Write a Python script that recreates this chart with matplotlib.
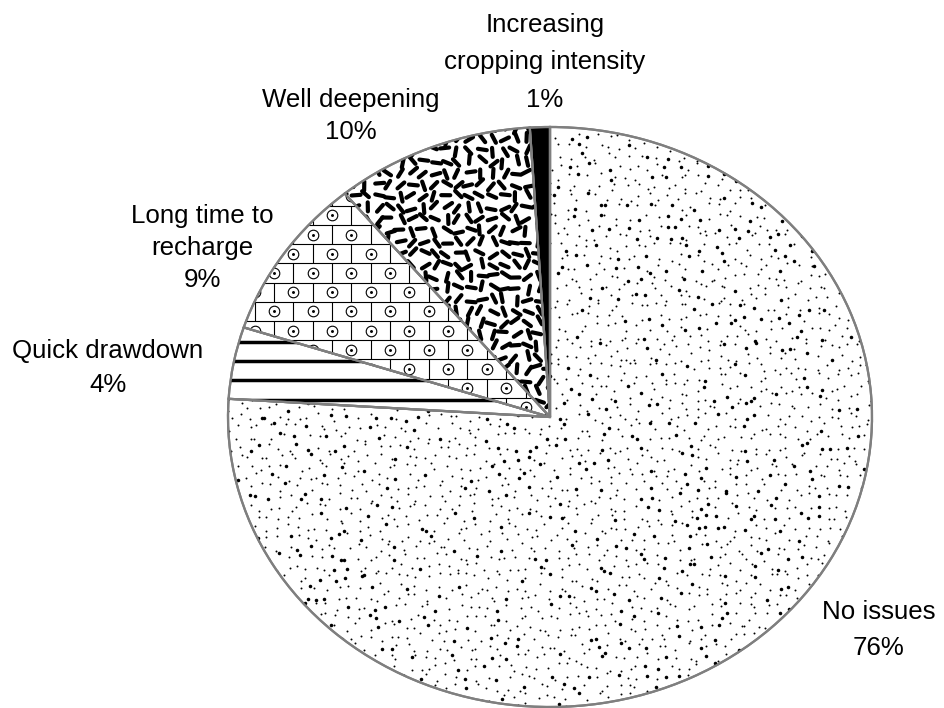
import numpy as np
import matplotlib
matplotlib.use("Agg")
import matplotlib.pyplot as plt
from matplotlib.collections import LineCollection
from matplotlib.patches import Wedge

# ---- data ----
categories = ["No issues", "Quick drawdown", "Long time to\nrecharge",
              "Well deepening", "Increasing\ncropping intensity"]
shares = [76, 4, 9, 10, 1]

# ---- layout (pixels, origin top-left) ----
W, H = 944, 708
CX, CY = 550, 417          # pie centre
RX, RY = 322, 290          # horizontal / vertical radius
# label anchor: x centre, first baseline, line pitch
label_pos = [(879, 619.3, 35.7), (107.5, 358.3, 34.0), (202, 223.0, 32.0),
             (351, 106.8, 32.5), (545, 31.7, 37.8)]

EDGE = "#7f7f7f"
FONT = ["Liberation Sans", "DejaVu Sans"]

fig = plt.figure(figsize=(W / 100, H / 100), dpi=100)
ax = fig.add_axes([0, 0, 1, 1])

wedges, _ = ax.pie(shares, startangle=90, counterclock=False, radius=1.0,
                   wedgeprops=dict(facecolor="white", edgecolor=EDGE, linewidth=1.6))
ax.set_aspect("auto")
ax.set_xlim(-CX / RX, (W - CX) / RX)
ax.set_ylim(-(H - CY) / RY, CY / RY)
ax.axis("off")


def to_data(px, py):
    px = np.asarray(px, float)
    py = np.asarray(py, float)
    return (px - CX) / RX, (CY - py) / RY


rng = np.random.default_rng(7)

# --- stipple texture (No issues): jittered grid keeps the dots evenly spread ---
step_s = 10.0
sx, sy = np.meshgrid(np.arange(CX - RX, CX + RX + step_s, step_s),
                     np.arange(CY - RY, CY + RY + step_s, step_s))
sx = sx.ravel() + rng.uniform(-4.5, 4.5, sx.size)
sy = sy.ravel() + rng.uniform(-4.5, 4.5, sy.size)
big = rng.random(sx.size) < 0.22
for mask, size in ((~big, 2.0), (big, 6.5)):
    dx, dy = to_data(sx[mask], sy[mask])
    sc = ax.scatter(dx, dy, s=size, c="black", linewidths=0, zorder=3)
    sc.set_clip_path(wedges[0])

# --- thick horizontal lines (Quick drawdown) ---
segs = []
for yp in np.arange(342.0 - 19.2 * 3, CY + 20, 19.2):
    x0, y0 = to_data(CX - RX - 10, yp)
    x1, y1 = to_data(CX + 10, yp)
    segs.append([(x0, y0), (x1, y1)])
lc = LineCollection(segs, colors="black", linewidths=2.5, zorder=3)
ax.add_collection(lc, autolim=False)
lc.set_clip_path(wedges[1])

# --- brick with circled dots (Long time to recharge) ---
row_h, brick_w = 19.2, 38.7
y_ref, x_ref = 263.3, 293.3
hsegs, vsegs, cents = [], [], []
for k in range(-12, 12):
    ytop = y_ref + k * row_h
    ybot = ytop + row_h
    x0, y0 = to_data(CX - RX - 10, ytop)
    x1, _ = to_data(CX + 10, ytop)
    hsegs.append([(x0, y0), (x1, y0)])
    off = 0.0 if k % 2 == 0 else -brick_w / 2
    for j in range(-10, 10):
        xv = x_ref + off + j * brick_w
        a = to_data(xv, ytop)
        b = to_data(xv, ybot)
        vsegs.append([a, b])
        cents.append((xv + brick_w / 2, ytop + row_h / 2))
bl = LineCollection(hsegs + vsegs, colors="black", linewidths=0.8, zorder=3)
ax.add_collection(bl, autolim=False)
bl.set_clip_path(wedges[2])
cents = np.array(cents)
cx_d, cy_d = to_data(cents[:, 0], cents[:, 1])
ring = ax.scatter(cx_d, cy_d, s=58, facecolors="white", edgecolors="black",
                  linewidths=0.8, zorder=4)
ring.set_clip_path(wedges[2])
dot = ax.scatter(cx_d, cy_d, s=4.5, c="black", linewidths=0, zorder=5)
dot.set_clip_path(wedges[2])

# --- confetti dashes (Well deepening) ---
step = 11.5
gx, gy = np.meshgrid(np.arange(CX - RX, CX + 10, step),
                     np.arange(CY - RY, CY + 10, step))
gx = gx.ravel() + rng.uniform(-2.5, 2.5, gx.size)
gy = gy.ravel() + rng.uniform(-2.5, 2.5, gy.size)
ang = rng.uniform(0, np.pi, gx.size)
half = 4.5
ax0, ay0 = to_data(gx - half * np.cos(ang), gy - half * np.sin(ang))
ax1, ay1 = to_data(gx + half * np.cos(ang), gy + half * np.sin(ang))
csegs = np.stack([np.column_stack([ax0, ay0]), np.column_stack([ax1, ay1])], axis=1)
cc = LineCollection(csegs, colors="black", linewidths=3.0, capstyle="round", zorder=3)
ax.add_collection(cc, autolim=False)
cc.set_clip_path(wedges[3])

# --- solid (Increasing cropping intensity) ---
wedges[4].set_facecolor("black")

# redraw outlines on top of the textures
for w in wedges:
    w.set_zorder(2)
    ax.add_patch(Wedge((0, 0), 1.0, w.theta1, w.theta2, facecolor="none",
                       edgecolor=EDGE, linewidth=1.6, zorder=6))

# ---- labels ----
for cat, val, (lx, by, pitch) in zip(categories, shares, label_pos):
    lines = cat.split("\n") + [f"{val}%"]
    for i, line in enumerate(lines):
        tx, ty = to_data(lx, by + i * pitch)
        ax.text(tx, ty, line, ha="center", va="baseline", fontsize=18.6,
                family=FONT, color="black", zorder=7)

fig.savefig("out.png", dpi=100)
